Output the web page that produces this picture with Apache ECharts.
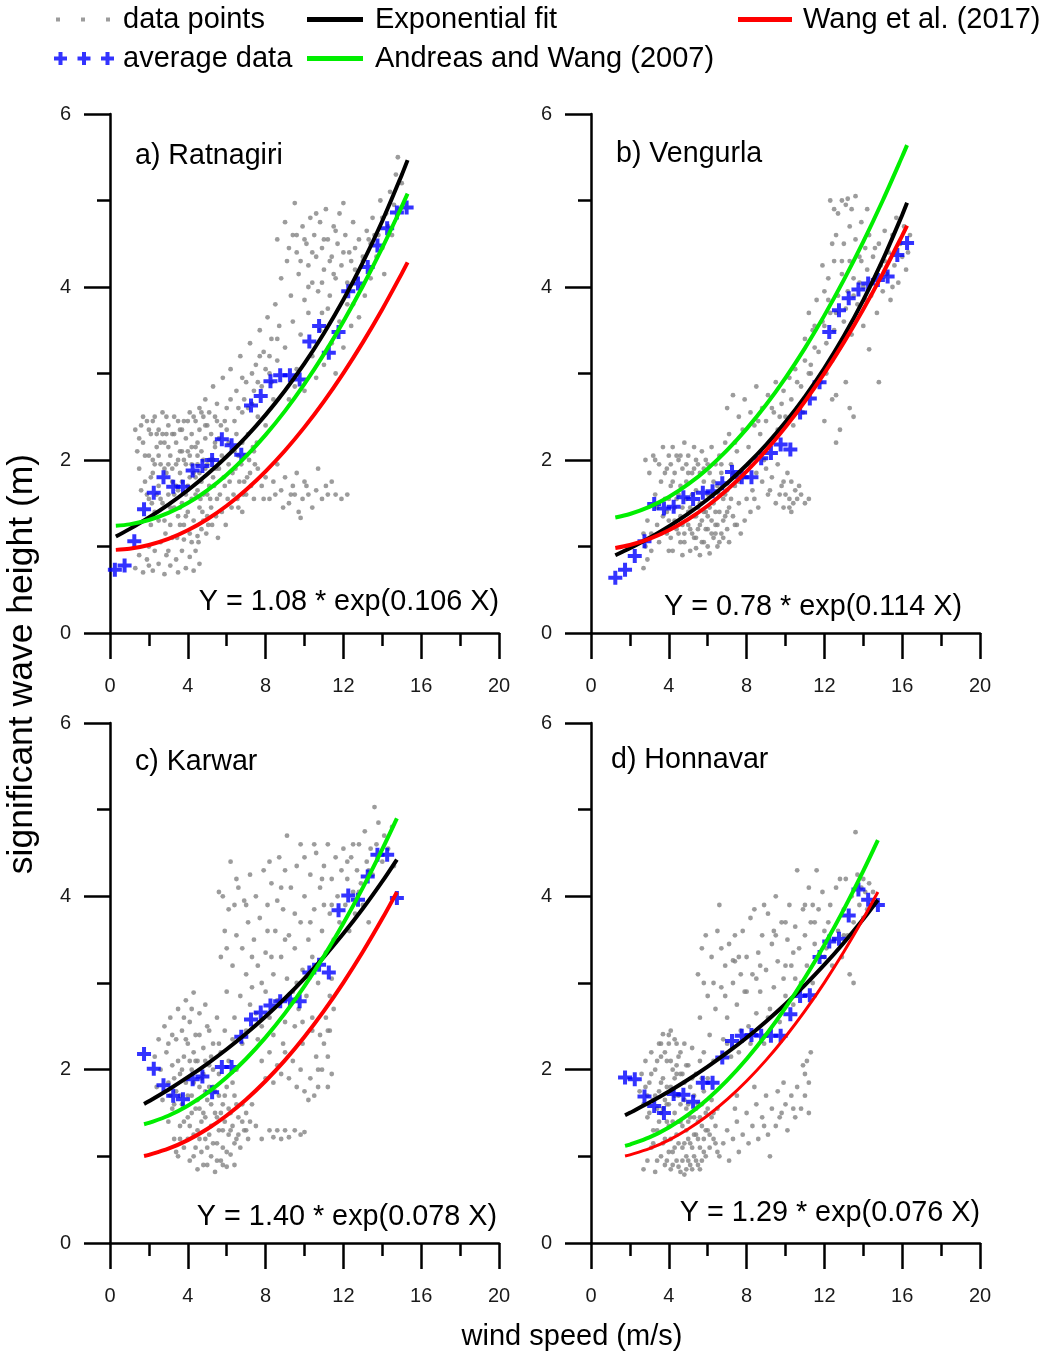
<!DOCTYPE html>
<html>
<head>
<meta charset="utf-8">
<script src="https://cdn.jsdelivr.net/npm/echarts@6/dist/echarts.min.js"></script>
<style>
html,body{margin:0;padding:0;background:#fff;}
#chart{width:1043px;height:1354px;}
</style>
</head>
<body>
<div id="chart"></div>
<script>
// ---------------- DATA ----------------
const panelTitles = ['a) Ratnagiri', 'b) Vengurla', 'c) Karwar', 'd) Honnavar'];
const equations = ['Y = 1.08 * exp(0.106 X)', 'Y = 0.78 * exp(0.114 X)', 'Y = 1.40 * exp(0.078 X)', 'Y = 1.29 * exp(0.076 X)'];
const xTickLabels = [0, 4, 8, 12, 16, 20];
const yTickLabels = [0, 2, 4, 6];

// gray data points [wind speed, wave height]
const pointsA = [
[1.3,2.35],[1.4,2.1],[1.5,1.9],[1.6,2.4],[1.7,2.2],[1.8,1.75],[1.9,2.45],[2.0,2.05],[2.0,1.55],[2.1,2.3],[2.2,1.85],[2.3,2.5],[2.3,1.4],[2.4,2.15],[2.5,1.7],[2.5,2.35],[2.6,1.95],[2.7,2.55],[2.7,1.5],[2.8,2.2],[2.8,1.3],[2.9,1.85],[3.0,2.4],[3.0,1.6],[3.1,2.05],[3.1,1.25],[3.2,2.3],[3.2,1.75],[3.3,1.45],[3.3,2.5],[3.4,1.95],[3.4,2.2],[3.5,1.35],[3.5,1.65],[3.6,2.35],[3.6,1.85],[3.7,2.1],[3.7,1.5],[3.8,2.45],[3.8,1.25],[3.9,1.95],[3.9,2.25],[4.0,1.7],[4.0,1.4],[4.1,2.55],[4.1,2.05],[4.2,1.55],[4.2,2.3],[4.3,1.85],[4.3,1.3],[4.4,2.15],[4.4,2.45],[4.5,1.65],[4.5,1.95],[4.6,2.35],[4.6,1.45],[4.7,2.1],[4.7,1.75],[4.8,2.5],[4.8,1.3],[4.9,1.9],[4.9,2.25],[5.0,1.6],[5.0,2.4],[5.1,2.0],[5.2,1.45],[5.2,2.3],[5.3,1.8],[5.4,2.15],[5.5,1.55],[5.5,2.45],
[2.2,2.0],[2.6,2.2],[3.0,1.95],[3.5,2.0],[3.9,1.6],[4.2,1.95],[4.5,2.2],[2.9,2.3],[3.3,1.6],[3.7,2.35],[4.0,2.1],[4.4,1.8],[2.4,1.6],[3.6,1.45],[4.8,2.0],
[1.5,2.25],[1.6,1.65],[1.7,2.5],[1.8,2.05],[1.9,1.6],[2.0,2.35],[2.1,1.8],[2.2,2.45],[2.3,1.95],[2.4,2.3],[2.5,2.05],[2.6,1.55],[2.7,2.3],[2.8,1.9],[2.9,2.5],[3.0,2.15],[3.1,1.45],[3.2,1.9],[3.3,2.3],[3.4,1.7],[3.5,2.45],[3.6,2.1],[3.7,1.75],[3.8,2.0],[3.9,1.35],[4.0,2.45],[4.1,1.8],[4.2,2.15],[4.3,2.5],[4.4,1.6],[4.5,2.05],[4.6,1.85],[4.7,2.55],[4.8,1.6],[4.9,2.4],[5.0,1.95],[5.1,1.7],[5.3,2.0],[5.4,2.5],[5.6,2.25],[2.1,1.25],[2.5,1.3],[3.6,1.25],[4.1,1.15],[4.7,1.2],[5.0,1.35],
[4.55,1.05],[4.75,1.4],[4.95,1.15],[5.15,1.55],[5.25,1.25],[5.35,1.7],[5.45,1.35],[5.55,1.1],[5.65,1.6],[5.75,1.4],[5.85,1.8],[5.95,1.25],[6.05,1.55],[6.15,1.75],[6.25,1.45],[6.35,1.6],[6.45,1.9],[6.55,1.55],[6.65,1.75],[6.75,1.95],[6.85,1.6],[6.95,2.05],[7.05,1.8],[7.15,2.0],[7.25,1.7],[7.35,2.15],[7.45,1.95],[7.55,2.2],[5.05,1.25],[5.45,1.9],[5.75,2.05],[6.1,1.95],[6.4,2.1],[6.8,2.2],[4.65,1.55],[3.45,1.1],[2.85,1.15],[2.15,1.5],
[1.3,0.75],[1.5,0.9],[1.7,0.7],[1.9,0.85],[2.0,1.0],[2.2,0.72],[2.3,0.95],[2.5,0.8],[2.6,1.05],[2.8,0.68],[2.9,0.9],[3.1,0.78],[3.2,1.1],[3.4,0.85],[3.5,0.7],[3.7,0.95],[3.8,1.08],[3.9,0.75],[4.1,0.88],[4.2,1.05],[4.3,0.72],[4.4,0.95],[4.5,1.12],[4.6,0.8],[2.0,0.78],[3.0,0.95],
[4.6,2.6],[4.9,2.7],[5.1,2.55],[5.3,2.85],[5.5,2.65],[5.6,1.9],[5.7,2.4],[5.8,2.95],[5.9,1.7],[6.0,2.6],[6.1,2.2],[6.2,3.05],[6.3,1.85],[6.4,2.45],[6.5,2.8],[6.6,2.05],[6.7,3.2],[6.8,2.55],[6.9,1.75],[7.0,2.9],[7.1,2.3],[7.2,3.35],[7.3,2.65],[7.4,2.1],[7.5,3.1],[7.6,2.5],[7.7,3.5],[7.8,2.85],[7.9,3.25],[8.0,2.4],[8.1,3.65],[8.2,3.0],[8.3,3.4],[8.4,2.7],[8.5,3.8],[8.6,3.15],[8.7,3.55],[5.4,2.2],[6.0,2.35],[6.9,2.7],[7.3,3.0],[7.6,2.9],[8.2,3.2],[5.2,2.0],[6.6,2.6],
[5.9,2.45],[6.2,2.7],[6.5,2.3],[6.8,2.95],[7.1,2.6],[7.4,2.8],[7.7,3.2],[8.0,3.05],[8.3,2.9],[8.6,3.4],
[8.6,4.55],[8.8,4.1],[9.0,4.75],[9.1,4.3],[9.3,3.9],[9.4,4.6],[9.5,4.97],[9.6,4.4],[9.7,4.15],[9.9,4.7],[10.0,3.85],[10.1,4.5],[10.2,4.25],[10.3,4.8],[10.4,4.05],[10.5,4.6],[10.6,4.35],[10.7,3.95],[10.8,4.75],[10.9,4.45],[11.0,4.2],[11.1,4.9],[11.2,4.55],[11.3,3.9],[11.4,4.35],[11.5,4.7],[11.6,4.1],[11.7,4.5],[11.8,4.85],[11.9,4.25],[12.0,4.97],[12.1,4.6],[12.2,4.05],[12.3,4.4],[12.5,4.75],[12.6,4.2],[12.8,4.55],[13.0,4.35],[13.2,4.65],[13.4,4.5],[9.2,4.45],[10.0,4.55],[10.6,4.85],[11.6,4.65],[12.4,4.3],
[9.8,4.3],[10.4,4.4],[11.0,4.55],[11.3,4.3],[9.6,4.6],[10.9,4.05],[12.0,4.4],[12.6,4.45],[10.2,4.0],[11.5,4.15],[12.9,4.0],
[9.0,3.3],[9.2,2.7],[9.4,3.6],[9.6,3.05],[9.8,3.45],[10.0,2.8],[10.2,3.7],[10.4,3.2],[10.6,2.95],[10.8,3.5],[11.0,3.1],[11.2,3.75],[11.4,3.35],[11.6,3.0],[11.8,3.6],[12.0,3.3],[12.2,3.8],[12.4,3.55],[9.5,2.85],[10.9,3.7],
[6.6,1.45],[6.8,1.4],[7.0,1.6],[7.2,1.85],[7.4,1.55],[7.6,1.9],[7.8,1.7],[8.0,1.8],[8.2,1.55],[8.4,1.75],[8.6,1.95],[8.8,1.65],[9.0,1.8],[9.2,1.5],[9.4,1.7],[9.6,1.85],[9.7,1.4],[9.8,1.33],[9.9,1.55],[10.0,1.75],[10.2,1.6],[10.4,1.45],[10.6,1.65],[10.7,1.9],[10.9,1.55],[11.1,1.7],[11.4,1.75],[11.6,1.6],[11.9,1.55],[12.2,1.6],[8.9,1.45],[9.5,1.6],
[10.1,1.7],[9.3,1.6],[8.5,1.6],[11.2,1.6],[7.9,1.55],
[12.5,3.8],[12.7,4.1],[12.8,3.65],[13.0,4.3],[13.1,3.9],[13.3,4.55],[13.4,4.1],[13.5,4.8],[13.7,4.35],[13.8,4.6],[13.9,5.0],[14.0,4.45],[14.2,4.85],[14.3,4.7],[14.4,5.1],[14.5,4.6],[14.6,4.95],[14.7,5.3],[14.8,5.5],[14.9,4.9],[15.0,5.2],[14.1,4.15],[13.6,4.6],[14.0,4.8]
];
const pointsB = [
[2.8,2.0],[2.9,1.3],[3.0,1.85],[3.1,1.15],[3.2,2.05],[3.3,1.6],[3.4,1.25],[3.5,1.95],[3.5,1.05],[3.6,1.75],[3.7,2.15],[3.7,1.35],[3.8,1.55],[3.9,1.9],[3.9,1.15],[4.0,2.05],[4.0,1.3],[4.1,1.7],[4.2,0.95],[4.2,2.15],[4.3,1.45],[4.3,1.85],[4.4,1.2],[4.5,2.0],[4.5,1.6],[4.6,1.05],[4.6,1.35],[4.7,1.9],[4.8,2.2],[4.8,1.15],[4.9,1.55],[4.9,1.75],[5.0,1.25],[5.0,2.05],[5.1,0.95],[5.1,1.45],[5.2,1.85],[5.3,1.1],[5.3,2.15],[5.4,1.35],[5.4,1.65],[5.5,1.95],[5.5,1.2],[5.6,0.9],[5.6,1.5],[5.7,2.1],[5.7,1.3],[5.8,1.75],[5.8,1.05],[5.9,1.4],[5.9,2.0],[6.0,1.2],[6.0,1.6],[6.1,0.92],[6.1,1.85],[6.2,1.3],[6.2,2.15],[6.3,1.1],[6.3,1.5],[6.4,1.95],[6.4,1.25],[6.5,1.7],[6.5,1.0],[6.6,1.4],[6.6,2.05],[6.7,1.15],[6.7,1.85],[6.8,1.55],[6.8,1.3],[6.9,2.2],[7.0,1.2],[7.0,1.65],[7.1,1.45],[7.2,1.95],[7.3,1.35],[7.4,1.7],[7.5,1.25],[7.5,2.1],[7.6,1.5],[7.7,1.15],[4.4,1.55],[4.7,1.25],[5.2,1.15],[5.6,1.25],[6.0,1.35],[6.4,1.15],[4.1,1.95],[4.6,2.05],[5.0,1.85],[5.4,2.0],[5.8,1.9],[3.3,2.0],[6.2,1.6],[6.9,1.35],
[3.4,1.45],[3.6,1.15],[3.8,1.85],[3.9,1.4],[4.0,1.55],[4.1,1.1],[4.2,1.75],[4.3,1.3],[4.4,2.05],[4.5,1.15],[4.6,1.7],[4.7,1.45],[4.8,1.05],[4.9,1.95],[5.0,1.4],[5.1,1.2],[5.2,1.6],[5.3,1.35],[5.3,1.9],[5.4,1.1],[5.5,1.45],[5.6,1.85],[5.7,1.05],[5.8,1.4],[5.9,1.2],[6.0,1.95],[6.1,1.45],[6.2,1.15],[6.3,1.75],[6.4,1.4],[6.5,1.25],[6.6,1.6],[6.7,1.95],[6.8,1.1],[6.9,1.6],[7.0,1.4],[7.2,1.55],[7.3,1.85],[7.4,1.25],[7.6,1.75],[4.0,0.95],[4.7,0.9],[5.4,0.98],[6.0,1.0],[6.6,1.05],[7.1,1.05],
[2.7,0.75],[2.8,1.0],[2.9,0.85],[3.0,1.1],[2.7,1.15],[3.1,0.95],
[7.8,1.8],[8.0,1.55],[8.1,1.95],[8.3,1.65],[8.5,1.85],[8.6,1.45],[8.8,1.75],[9.0,1.9],[9.1,1.6],[9.3,1.8],[9.5,1.5],[9.6,1.95],[9.8,1.7],[9.9,1.45],[10.0,1.6],[10.1,1.85],[10.2,1.55],[10.3,1.75],[10.4,1.5],[10.5,1.65],[10.6,1.55],[10.8,1.6],[11.0,1.5],[11.2,1.55],[10.3,1.4],[9.7,1.6],[8.2,1.4],[7.9,1.3],
[8.4,1.55],[9.2,1.65],[9.9,1.75],[10.2,1.45],[10.7,1.7],
[7.0,2.6],[7.1,2.3],[7.3,2.75],[7.4,2.2],[7.6,2.5],[7.8,2.35],[7.9,2.7],[8.1,2.15],[8.2,2.55],[8.4,2.4],[8.5,2.85],[8.7,2.3],[8.8,2.6],[9.0,2.45],[9.1,2.75],[9.2,2.2],[9.4,2.55],[9.5,2.9],[9.6,2.35],[9.8,2.65],[9.9,2.8],[10.0,2.5],[10.2,2.95],[10.3,2.7],[10.5,3.05],[10.6,2.6],[10.8,2.85],[11.0,3.15],[11.1,2.75],[11.3,3.0],[11.5,3.3],[10.4,2.4],[8.9,2.0],[10.9,2.55],[9.3,2.6],
[9.7,2.5],[8.6,2.45],[10.6,2.9],[11.2,3.0],
[11.0,3.4],[11.2,3.7],[11.3,3.1],[11.5,3.55],[11.6,3.85],[11.7,3.25],[11.8,2.9],[11.9,3.6],[12.0,3.95],[12.1,3.35],[12.2,4.1],[12.3,3.7],[12.3,5.0],[12.4,3.15],[12.5,4.3],[12.5,3.5],[12.6,4.6],[12.7,3.9],[12.7,4.85],[12.8,3.3],[12.9,4.15],[13.0,4.5],[13.0,3.6],[13.1,4.95],[13.2,3.95],[13.3,4.3],[13.3,4.7],[13.4,3.45],[13.5,4.1],[13.6,4.55],[13.6,5.05],[13.7,3.8],[13.8,4.35],[13.9,4.75],[14.0,4.0],[14.0,3.55],[14.1,4.45],[14.2,4.2],[14.3,3.28],[14.3,4.6],[14.4,3.9],[14.5,4.35],[14.6,4.1],[14.7,3.7],[14.8,2.9],[14.8,4.5],[14.9,4.25],[15.0,3.95],[15.1,4.65],[15.2,4.15],[15.3,4.4],[15.4,3.85],[15.5,4.6],[15.6,4.25],[15.7,4.8],[15.8,4.05],[15.9,4.5],[16.0,4.35],[16.1,4.7],[16.3,4.4],[16.4,4.6],[12.9,5.0],[13.2,5.02],[11.9,4.25],[12.4,4.5],[13.8,4.05],[14.2,4.9],[12.1,3.0],[12.6,2.75],[13.3,2.6],
[11.4,3.5],[12.0,3.55],[12.6,3.7],[13.1,3.75],[13.5,3.9],[14.1,3.85],[14.6,4.45],[15.1,4.3],[13.9,4.3],[12.9,4.3],[12.2,3.85],[13.4,4.9],[12.5,4.9],[15.5,4.0],[16.2,4.2],
[12.0,2.45],[12.4,2.7],[12.8,2.35],[13.1,2.9],[13.5,2.5],[12.6,2.2]
];
const pointsC = [
[2.3,2.15],[2.4,1.8],[2.5,2.35],[2.6,2.0],[2.7,1.65],[2.8,2.5],[2.9,2.2],[3.0,1.85],[3.0,1.4],[3.1,2.6],[3.2,2.05],[3.2,1.55],[3.3,1.2],[3.4,2.35],[3.4,1.75],[3.5,2.7],[3.5,1.0],[3.6,1.95],[3.6,1.35],[3.7,2.45],[3.7,1.6],[3.8,2.15],[3.8,1.1],[3.9,2.8],[3.9,1.85],[4.0,1.45],[4.0,2.3],[4.1,0.95],[4.1,2.55],[4.2,1.7],[4.2,2.0],[4.3,2.89],[4.3,1.25],[4.4,2.4],[4.4,1.55],[4.5,0.85],[4.5,2.1],[4.6,1.8],[4.6,2.65],[4.7,1.05],[4.7,1.4],[4.8,2.25],[4.8,1.95],[4.9,2.75],[4.9,1.2],[5.0,1.65],[5.0,0.9],[5.1,2.45],[5.1,2.05],[5.2,1.35],[5.2,1.0],[5.3,2.3],[5.3,1.8],[5.4,0.82],[5.4,1.5],[5.5,2.6],[5.5,1.15],[5.6,1.95],[5.6,1.3],[5.7,0.95],[5.7,2.2],[5.8,1.6],[5.8,1.1],[5.9,2.45],[5.9,1.4],[6.0,0.88],[6.0,1.8],[6.1,1.25],[6.1,2.1],[6.2,1.5],[6.2,1.02],[6.3,2.35],[6.3,1.35],[6.4,1.7],[6.4,0.9],[6.5,1.2],[6.5,2.0],[6.6,1.45],[6.7,1.1],[6.8,1.6],[6.9,1.3],[7.0,1.5],[7.1,1.2],[7.2,1.4],[7.3,1.6],[7.5,1.35],[3.3,1.9],[3.8,2.6],[4.0,1.7],[4.3,2.2],[4.6,1.55],[4.9,1.75],[5.2,2.15],[5.6,1.7],[3.1,1.7],[4.5,1.3],[4.0,1.2],[3.4,1.05],[5.0,2.5],[4.2,2.7],
[3.0,2.3],[3.2,2.4],[3.3,1.6],[3.5,2.1],[3.6,1.7],[3.7,2.0],[3.8,1.4],[3.9,2.35],[4.0,1.9],[4.1,2.1],[4.1,1.35],[4.2,1.5],[4.3,1.85],[4.4,2.1],[4.4,1.1],[4.5,1.65],[4.6,2.4],[4.6,1.2],[4.7,1.9],[4.8,1.5],[4.9,2.1],[4.9,1.45],[5.0,1.1],[5.1,1.8],[5.1,1.25],[5.2,1.6],[5.3,2.0],[5.3,1.15],[5.4,1.75],[5.5,1.45],[5.5,0.95],[5.6,2.3],[5.7,1.5],[5.8,1.3],[5.9,1.7],[6.0,1.05],[6.1,1.55],[6.2,1.3],[6.3,1.85],[6.4,1.15],[6.6,1.25],[6.8,1.4],[7.0,1.3],[3.6,1.2],[4.3,1.0],[4.8,0.9],[5.8,0.9],[6.5,1.6],
[5.6,4.05],[5.8,4.0],[5.7,3.3],[5.9,3.6],[6.0,2.9],[6.1,3.85],[6.2,4.4],[6.3,3.2],[6.4,2.6],[6.5,3.55],[6.6,4.1],[6.7,2.85],[6.8,3.4],[6.9,3.95],[7.0,3.1],[7.0,2.45],[7.1,3.7],[7.2,4.25],[7.3,2.95],[7.4,3.5],[7.5,2.65],[7.5,4.0],[7.6,3.2],[7.7,3.75],[7.8,2.5],[7.9,4.3],[8.0,3.35],[8.0,2.9],[8.1,3.9],[8.2,2.6],[8.3,4.15],[8.4,3.1],[8.5,3.6],[8.6,2.8],[8.7,4.45],[8.8,3.3],[8.9,3.85],[9.0,2.55],[9.1,4.7],[9.1,3.05],[9.2,3.55],[9.3,4.1],[9.4,2.9],[9.5,3.4],[9.6,4.35],[9.7,2.7],[9.8,4.6],[9.8,3.7],[9.9,3.15],[10.0,4.0],[10.1,2.85],[10.2,3.5],[10.3,4.25],[10.4,3.3],[10.5,3.85],[10.6,4.5],[10.7,3.0],[10.8,4.1],[10.9,3.6],[11.0,4.35],[11.1,3.35],[11.2,4.6],[11.3,3.8],[11.4,4.2],[11.5,3.5],[11.6,4.45],[11.7,4.0],[11.8,3.7],[11.9,4.3],[12.0,4.55],[12.1,3.9],[12.2,4.2],[12.3,3.6],[12.4,4.45],[12.5,4.05],[12.6,3.8],[12.7,4.3],[12.8,4.6],[12.9,4.15],[13.0,3.9],[13.1,4.75],[13.2,4.4],[13.3,3.7],[13.4,4.55],[13.5,4.25],[13.6,5.03],[13.7,4.6],[13.8,4.85],[14.0,4.4],[14.1,4.7],[14.3,4.55],[14.5,4.8],[14.6,4.35],[6.0,3.4],[6.8,2.3],[7.6,2.35],[8.4,2.4],[8.9,2.3],[9.5,2.5],[10.4,2.6],[6.4,3.9],[9.0,4.3],[10.0,4.45],[7.3,3.3],[8.6,3.95],
[7.2,2.75],[7.8,3.0],[8.3,3.3],[9.0,3.5],[9.6,3.0],[10.3,3.7],[10.9,4.2],[11.4,3.9],[12.2,4.4],[12.8,4.05],[13.3,4.3],[8.1,3.6],[8.8,4.1],[9.5,3.8],[7.0,3.9],[6.5,4.2],[8.2,4.4],[11.0,3.9],[12.5,4.6],[10.5,4.6],
[7.8,2.1],[8.0,1.9],[8.2,2.2],[8.4,1.85],[8.6,2.05],[8.8,1.95],[9.0,2.2],[9.2,1.9],[9.4,2.1],[9.6,1.8],[9.8,2.0],[10.0,1.75],[10.2,1.65],[10.3,1.9],[10.5,1.7],[10.7,1.8],[10.9,2.0],[11.0,2.3],[11.1,2.6],[11.2,2.15],[11.3,2.85],[11.3,2.45],[11.4,3.05],[11.4,1.95],[11.5,2.7],[10.8,2.4],[10.6,2.15],[9.9,2.3],[11.2,1.8],[10.4,2.45],
[9.9,2.55],[10.7,2.0],[11.2,2.45],
[8.2,1.3],[8.4,1.22],[8.6,1.3],[8.8,1.2],[9.0,1.3],[9.2,1.22],[9.5,1.3],[9.8,1.25],[10.0,1.28],[7.8,1.2]
];
const pointsD = [
[2.5,1.75],[2.6,1.95],[2.7,1.6],[2.7,0.85],[2.8,2.1],[2.9,1.45],[2.9,0.95],[3.0,1.85],[3.1,2.2],[3.1,1.1],[3.2,1.65],[3.3,2.0],[3.3,0.82],[3.4,1.3],[3.5,2.3],[3.5,1.75],[3.6,1.0],[3.6,1.5],[3.7,2.41],[3.7,1.9],[3.8,1.2],[3.8,0.9],[3.9,2.1],[3.9,1.6],[4.0,1.35],[4.0,2.3],[4.1,0.85],[4.1,1.8],[4.2,1.05],[4.2,2.0],[4.3,1.5],[4.3,2.35],[4.4,1.25],[4.4,0.95],[4.5,1.7],[4.5,2.15],[4.6,1.4],[4.6,0.82],[4.7,1.95],[4.7,1.1],[4.8,2.3],[4.8,0.79],[4.9,1.55],[4.9,1.3],[5.0,2.05],[5.0,0.95],[5.1,1.8],[5.1,1.15],[5.2,2.25],[5.2,0.85],[5.3,1.45],[5.3,1.0],[5.4,1.95],[5.4,1.25],[5.5,0.9],[5.5,1.6],[5.6,2.1],[5.6,1.1],[5.7,1.35],[5.7,0.95],[5.8,1.75],[5.8,1.2],[5.9,1.0],[5.9,1.5],[6.0,1.9],[6.0,1.3],[6.1,1.1],[6.2,1.45],[6.2,1.65],[6.3,1.2],[6.4,1.35],[6.5,1.55],[6.5,1.05],[3.4,1.55],[3.9,1.4],[4.2,1.75],[4.6,1.95],[4.0,1.05],[4.5,1.15],[3.2,1.3],[5.0,1.4],[4.3,1.9],[3.6,2.15],[5.3,1.7],[4.8,1.65],[2.9,1.7],[4.1,2.45],[4.4,2.05],[5.7,1.9],[3.8,1.65],[4.9,1.0],[5.5,1.4],
[2.8,1.8],[3.0,1.5],[3.1,1.95],[3.2,1.15],[3.3,1.7],[3.4,2.1],[3.4,0.95],[3.5,1.4],[3.6,1.85],[3.7,1.15],[3.7,1.55],[3.8,2.2],[3.9,0.95],[3.9,1.8],[4.0,1.6],[4.1,1.2],[4.1,2.1],[4.2,1.4],[4.2,0.9],[4.3,1.7],[4.3,1.1],[4.4,1.95],[4.5,1.4],[4.5,0.88],[4.6,1.6],[4.6,2.2],[4.7,1.35],[4.7,0.95],[4.8,1.85],[4.8,1.15],[4.9,2.05],[4.9,0.85],[5.0,1.6],[5.0,1.2],[5.1,1.45],[5.1,0.9],[5.2,1.9],[5.2,1.1],[5.3,1.25],[5.4,1.55],[5.4,0.95],[5.5,1.2],[5.6,1.45],[5.6,0.85],[5.7,1.6],[5.8,1.05],[5.9,1.3],[6.0,1.55],[6.1,1.25],[6.3,1.5],[6.4,1.15],[3.6,2.3],[4.0,2.4],[4.4,2.3],
[6.6,1.0],[6.8,1.15],[7.0,1.3],[7.1,0.95],[7.3,1.2],[7.5,1.4],[7.6,1.05],[7.8,1.25],[8.0,1.5],[8.1,1.15],[8.3,1.35],[8.5,1.6],[8.6,1.2],[8.8,1.45],[9.0,1.7],[9.1,1.25],[9.2,1.0],[9.3,1.55],[9.5,1.35],[9.6,1.75],[9.8,1.5],[10.0,1.6],[10.1,1.3],[10.3,1.7],[10.5,1.45],[10.6,1.8],[10.8,1.55],[11.0,1.7],[11.0,1.95],[11.1,2.1],[11.2,1.85],[11.3,2.2],[11.2,1.5],[10.9,2.05],[9.9,1.85],[7.4,1.55],[8.4,1.8],
[7.5,1.7],[8.9,1.35],[9.7,1.45],[10.4,1.55],
[5.5,3.1],[5.6,2.6],[5.7,3.4],[5.8,2.2],[5.9,3.55],[6.0,2.85],[6.1,2.4],[6.2,3.3],[6.3,2.1],[6.4,2.7],[6.5,3.6],[6.6,3.9],[6.7,2.95],[6.8,2.35],[6.9,3.2],[7.0,2.6],[7.1,3.45],[7.2,2.15],[7.3,3.0],[7.4,3.25],[7.5,2.75],[7.6,3.3],[7.7,2.45],[7.8,3.6],[7.9,2.9],[8.0,3.3],[8.1,2.5],[8.2,3.75],[8.3,3.1],[8.4,3.85],[8.5,2.65],[8.6,3.35],[8.7,2.9],[8.8,3.55],[8.9,2.3],[9.0,3.15],[9.1,3.8],[9.2,2.7],[9.3,3.45],[9.4,2.95],[9.5,4.0],[9.6,3.25],[9.7,2.55],[9.8,3.7],[9.9,3.05],[10.0,2.85],[10.1,3.5],[10.2,3.9],[10.3,3.2],[10.4,2.75],[10.5,3.65],[10.6,4.3],[10.7,3.4],[10.8,3.0],[10.9,3.85],[11.0,3.55],[11.1,3.2],[11.2,4.1],[11.3,3.7],[11.4,3.0],[11.5,3.45],[11.6,4.3],[11.7,3.85],[11.8,3.3],[11.9,4.05],[12.0,3.6],[7.3,3.26],[7.7,3.1],[6.3,3.0],[8.5,3.05],[9.5,3.55],[10.0,3.7],[10.4,3.35],[11.4,3.9],[6.9,2.85],[8.9,3.9],[7.0,2.3],[9.2,2.45],[5.8,3.0],
[6.7,3.4],[7.4,3.55],[8.0,2.9],[8.7,3.2],[9.4,3.6],[10.0,3.2],[10.5,3.05],[11.0,3.9],[11.5,3.7],[12.0,3.3],[9.1,2.6],[7.6,2.2],[8.2,2.3],
[12.1,3.4],[12.3,3.9],[12.4,3.2],[12.6,4.1],[12.7,3.6],[12.9,3.3],[13.0,3.85],[13.1,4.2],[13.2,3.55],[13.3,3.1],[13.4,4.0],[13.5,3.7],[13.6,4.74],[13.7,4.25],[13.8,3.9],[13.9,4.1],[14.0,3.75],[14.1,4.05],[14.2,3.85],[14.3,4.15],[14.4,3.9],[14.5,4.05],[12.8,4.2],[13.5,3.0],[12.2,3.7],
[12.5,3.5],[13.0,3.55],[14.0,4.2]
];

// blue averages
const avgXA = [0.25,0.75,1.25,1.75,2.25,2.75,3.25,3.75,4.25,4.75,5.25,5.75,6.25,6.75,7.25,7.75,8.25,8.75,9.25,9.75,10.25,10.75,11.25,11.75,12.25,12.75,13.25,13.75,14.25,14.75,15.25];
const avgYA = [0.73,0.78,1.06,1.43,1.62,1.80,1.69,1.69,1.88,1.93,2.00,2.24,2.17,2.06,2.63,2.74,2.91,2.98,2.98,2.93,3.37,3.55,3.24,3.48,3.95,4.04,4.23,4.48,4.68,4.86,4.92];
const avgXB = [1.25,1.75,2.25,2.75,3.25,3.75,4.25,4.75,5.25,5.75,6.25,6.75,7.25,7.75,8.25,8.75,9.25,9.75,10.25,10.75,11.25,11.75,12.25,12.75,13.25,13.75,14.25,14.75,15.25,15.75,16.25];
const avgYB = [0.64,0.73,0.89,1.06,1.49,1.44,1.46,1.57,1.55,1.62,1.64,1.73,1.86,1.80,1.80,2.02,2.08,2.18,2.12,2.55,2.71,2.90,3.48,3.73,3.87,3.97,4.04,4.08,4.12,4.37,4.51];
const avgXC = [1.75,2.25,2.75,3.25,3.75,4.25,4.75,5.25,5.75,6.25,6.75,7.25,7.75,8.25,8.75,9.25,9.75,10.25,10.75,11.25,11.75,12.25,12.75,13.25,13.75,14.25,14.75];
const avgYC = [2.18,2.01,1.82,1.70,1.66,1.89,1.92,1.74,2.03,2.03,2.38,2.58,2.66,2.74,2.79,2.81,2.79,3.12,3.21,3.12,3.84,4.01,3.96,4.23,4.48,4.48,3.98];
const avgXD = [1.75,2.25,2.75,3.25,3.75,4.25,4.75,5.25,5.75,6.25,6.75,7.25,7.75,8.25,8.75,9.25,9.75,10.25,10.75,11.25,11.75,12.25,12.75,13.25,13.75,14.25,14.75];
const avgYD = [1.91,1.89,1.69,1.58,1.50,1.72,1.71,1.63,1.85,1.85,2.14,2.33,2.39,2.40,2.39,2.39,2.39,2.64,2.85,2.86,3.30,3.48,3.51,3.78,4.08,3.96,3.90];

// curves read along wind speed
const curveXA = [0.3,1,2,3,4,5,6,7,8,9,10,11,12,13,14,15,15.3];
const expFitA = [1.115,1.201,1.335,1.484,1.650,1.835,2.040,2.268,2.522,2.804,3.117,3.466,3.853,4.284,4.763,5.296,5.467];
const andreasA = [1.241,1.256,1.306,1.388,1.502,1.650,1.830,2.044,2.290,2.568,2.880,3.224,3.602,4.012,4.454,4.930,5.079];
const wangA = [0.961,0.974,1.017,1.088,1.187,1.315,1.471,1.656,1.869,2.110,2.380,2.678,3.005,3.360,3.743,4.155,4.284];

const curveXB = [1.25,2,3,4,5,6,7,8,9,10,11,12,13,14,15,16,16.25];
const expFitB = [0.899,0.980,1.098,1.231,1.379,1.546,1.732,1.942,2.176,2.439,2.733,3.063,3.433,3.848,4.313,4.833,4.973];
const andreasB = [1.336,1.376,1.458,1.572,1.720,1.900,2.114,2.360,2.638,2.950,3.294,3.672,4.082,4.524,5.000,5.508,5.640];
const wangB = [0.982,1.017,1.088,1.187,1.315,1.471,1.656,1.869,2.110,2.380,2.678,3.005,3.360,3.743,4.155,4.595,4.710];

const curveXC = [1.75,2,3,4,5,6,7,8,9,10,11,12,13,14,14.75];
const expFitC = [1.605,1.636,1.769,1.913,2.068,2.236,2.417,2.613,2.825,3.054,3.302,3.570,3.859,4.172,4.424];
const andreasC = [1.370,1.386,1.468,1.583,1.731,1.912,2.126,2.373,2.652,2.965,3.310,3.689,4.100,4.544,4.899];
const wangC = [1.003,1.017,1.088,1.187,1.315,1.471,1.656,1.869,2.110,2.380,2.678,3.005,3.360,3.743,4.049];

const curveXD = [1.75,2,3,4,5,6,7,8,9,10,11,12,13,14,14.75];
const expFitD = [1.474,1.502,1.620,1.748,1.886,2.035,2.196,2.369,2.557,2.758,2.976,3.211,3.465,3.738,3.958];
const andreasD = [1.120,1.136,1.218,1.333,1.481,1.662,1.876,2.123,2.402,2.715,3.060,3.439,3.850,4.294,4.649];
const wangD = [1.003,1.017,1.088,1.187,1.315,1.471,1.656,1.869,2.110,2.380,2.678,3.005,3.360,3.743,4.049];

// ---------------- BUILD ----------------
const FONT = 'Arial, "Liberation Sans", Helvetica, sans-serif';
const panels = [
  {pts: pointsA, ax: avgXA, ay: avgYA, cx: curveXA, ex: expFitA, an: andreasA, wa: wangA, wangW: 4},
  {pts: pointsB, ax: avgXB, ay: avgYB, cx: curveXB, ex: expFitB, an: andreasB, wa: wangB, wangW: 4},
  {pts: pointsC, ax: avgXC, ay: avgYC, cx: curveXC, ex: expFitC, an: andreasC, wa: wangC, wangW: 4},
  {pts: pointsD, ax: avgXD, ay: avgYD, cx: curveXD, ex: expFitD, an: andreasD, wa: wangD, wangW: 3}
];
const gridPos = [
  {left: 110, top: 114, width: 389, height: 519},
  {left: 591, top: 114, width: 389, height: 519},
  {left: 110, top: 723, width: 389, height: 520},
  {left: 591, top: 723, width: 389, height: 520}
];
const titlePos = [[135,156],[616,154],[135,762],[611,760]];
const eqPos = [[499,602],[962,607],[497,1217],[980,1213]];

const plusPath = 'path://M5,0h4v5h5v4h-5v5h-4v-5h-5v-4h5z';
const plus3Path = 'path://M4.5,0h4v4.5h4.5v4h-4.5v4.5h-4v-4.5h-4.5v-4h4.5z M28,0h4v4.5h4.5v4h-4.5v4.5h-4v-4.5h-4.5v-4h4.5z M51.5,0h4v4.5h4.5v4h-4.5v4.5h-4v-4.5h-4.5v-4h4.5z';
const dotsPath = 'path://M0,0h4v4h-4z M25,0h4v4h-4z M50,0h4v4h-4z';

const axisLineStyle = {color: '#000', width: 2.5};
const xAxes = [], yAxes = [], series = [], graphics = [];
panels.forEach((p, i) => {
  xAxes.push({
    type: 'value', gridIndex: i, min: 0, max: 20, interval: 4,
    axisLine: {show: true, onZero: false, lineStyle: axisLineStyle},
    axisTick: {show: true, length: 26, lineStyle: axisLineStyle},
    minorTick: {show: true, splitNumber: 2, length: 13, lineStyle: axisLineStyle},
    splitLine: {show: false}, minorSplitLine: {show: false},
    axisLabel: {margin: 43, fontSize: 20, color: '#1a1a1a', fontFamily: FONT,
      formatter: v => xTickLabels.indexOf(v) >= 0 ? String(v) : ''}
  });
  yAxes.push({
    type: 'value', gridIndex: i, min: 0, max: 6, interval: 2,
    axisLine: {show: true, onZero: false, lineStyle: axisLineStyle},
    axisTick: {show: true, length: 26, lineStyle: axisLineStyle},
    minorTick: {show: true, splitNumber: 2, length: 13, lineStyle: axisLineStyle},
    splitLine: {show: false}, minorSplitLine: {show: false},
    axisLabel: {margin: 39, fontSize: 20, color: '#1a1a1a', fontFamily: FONT,
      formatter: v => yTickLabels.indexOf(v) >= 0 ? String(v) : ''}
  });
  series.push({
    name: 'data points', type: 'scatter', xAxisIndex: i, yAxisIndex: i,
    data: p.pts, symbol: 'circle', symbolSize: 4.8,
    itemStyle: {color: '#838383'}, z: 1, silent: true
  });
  series.push({
    name: 'Exponential fit', type: 'line', xAxisIndex: i, yAxisIndex: i,
    data: p.cx.map((x, k) => [x, p.ex[k]]), smooth: 0.3, showSymbol: false,
    color: '#000', lineStyle: {color: '#000', width: 4}, itemStyle: {color: '#000'}, z: 4
  });
  series.push({
    name: 'Andreas and Wang (2007)', type: 'line', xAxisIndex: i, yAxisIndex: i,
    data: p.cx.map((x, k) => [x, p.an[k]]), smooth: 0.3, showSymbol: false,
    color: '#00ee00', lineStyle: {color: '#00ee00', width: 4}, itemStyle: {color: '#00ee00'}, z: 4
  });
  series.push({
    name: 'Wang et al. (2017)', type: 'line', xAxisIndex: i, yAxisIndex: i,
    data: p.cx.map((x, k) => [x, p.wa[k]]), smooth: 0.3, showSymbol: false,
    color: '#ff0000', lineStyle: {color: '#ff0000', width: p.wangW}, itemStyle: {color: '#ff0000'}, z: 4
  });
  series.push({
    name: 'average data', type: 'scatter', xAxisIndex: i, yAxisIndex: i,
    data: p.ax.map((x, k) => [x, p.ay[k]]), symbol: plusPath, symbolSize: 14,
    itemStyle: {color: '#0000ff'}, z: 3, silent: true
  });
  graphics.push({
    type: 'text', x: titlePos[i][0], y: titlePos[i][1], silent: true,
    style: {text: panelTitles[i], font: '28.6px ' + FONT, fill: '#000', align: 'left', verticalAlign: 'middle'}
  });
  graphics.push({
    type: 'text', x: eqPos[i][0], y: eqPos[i][1], silent: true,
    style: {text: equations[i], font: '28.8px ' + FONT, fill: '#000', align: 'right', verticalAlign: 'middle'}
  });
});
graphics.push({
  type: 'text', x: 22, y: 664, rotation: Math.PI / 2, silent: true,
  style: {text: 'significant wave height (m)', font: '35.5px ' + FONT, fill: '#000', align: 'center', verticalAlign: 'middle'}
});
graphics.push({
  type: 'text', x: 572, y: 1337, silent: true,
  style: {text: 'wind speed (m/s)', font: '29px ' + FONT, fill: '#000', align: 'center', verticalAlign: 'middle'}
});

const legendText = {fontSize: 29, color: '#000', fontFamily: FONT};
function mkLegend(name, icon, left, top, w, h, pad) {
  return {
    data: [{name: name, icon: icon}], left: left, top: top, padding: 0,
    itemWidth: w, itemHeight: h, selectedMode: false,
    textStyle: Object.assign({padding: [0, 0, 0, pad]}, legendText)
  };
}
const legends = [
  mkLegend('data points', dotsPath, 56, 5, 54, 4, 8),
  mkLegend('average data', plus3Path, 54, 44, 60, 13, 4),
  mkLegend('Exponential fit', 'rect', 307, 5, 56, 5, 7),
  mkLegend('Andreas and Wang (2007)', 'rect', 307, 44, 56, 5, 7),
  mkLegend('Wang et al. (2017)', 'rect', 738, 5, 54, 5, 6)
];

const chart = echarts.init(document.getElementById('chart'), null, {renderer: 'canvas'});
chart.setOption({
  animation: false,
  backgroundColor: '#fff',
  grid: gridPos,
  xAxis: xAxes,
  yAxis: yAxes,
  legend: legends,
  series: series,
  graphic: graphics
});
</script>
</body>
</html>
